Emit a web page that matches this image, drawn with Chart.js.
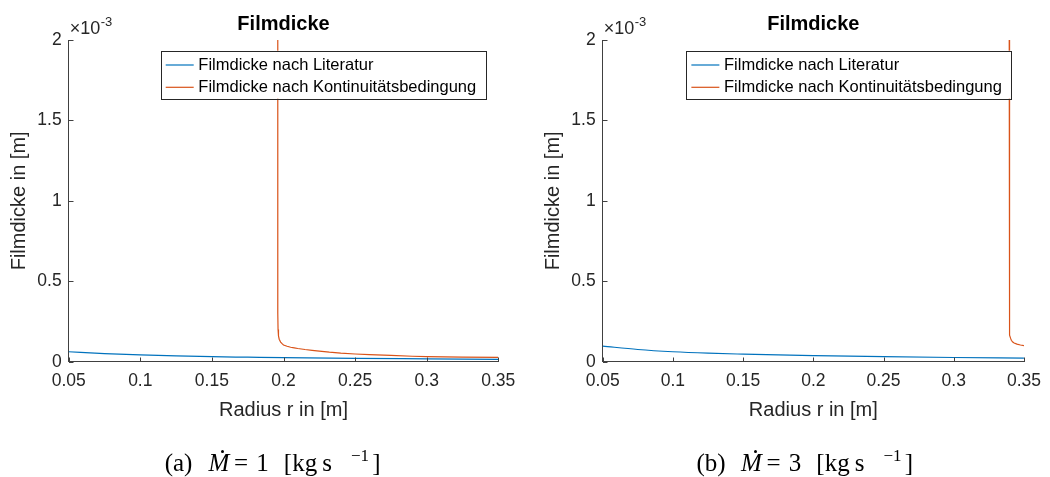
<!DOCTYPE html>
<html>
<head>
<meta charset="utf-8">
<title>Filmdicke</title>
<script src="https://cdn.jsdelivr.net/npm/chart.js@4.4.1/dist/chart.umd.min.js"></script>
<style>
  html, body { margin: 0; padding: 0; background: #ffffff; }
  #wrap { position: relative; width: 1050px; height: 477px; overflow: hidden; }
  .panel { position: absolute; top: 0; width: 525px; height: 477px; }
  .panel canvas { display: block; }
  .cap {
    position: absolute; top: 450px; height: 26px; width: 220px;
    font-family: "Liberation Serif", "DejaVu Serif", serif;
    font-size: 25px; line-height: 25px; color: #000;
  }
  .cap span { position: absolute; top: 0; white-space: nowrap; transform: translateX(-50%); }
  .cap .it { font-style: italic; }
  .cap .sup { font-size: 17px; top: -7px; }
  .cap .dot { position: absolute; top: -0.5px; width: 3px; height: 3px; border-radius: 50%; background: #000; }
</style>
</head>
<body>
<div id="wrap">
  <div class="panel" style="left:0px"><canvas id="chartA" width="525" height="477"></canvas></div>
  <div class="panel" style="left:525px"><canvas id="chartB" width="525" height="477"></canvas></div>

  <div class="cap" style="left:167px">
    <span style="left:11.5px">(a)</span>
    <span class="it" style="left:52px">M</span><div class="dot" style="left:54px"></div>
    <span style="left:74px">=</span>
    <span style="left:95.5px">1</span>
    <span style="left:133.5px">[kg</span>
    <span style="left:160px">s</span>
    <span class="sup" style="left:193px">−1</span>
    <span style="left:209.5px">]</span>
  </div>
  <div class="cap" style="left:699.5px">
    <span style="left:11.5px">(b)</span>
    <span class="it" style="left:52px">M</span><div class="dot" style="left:54px"></div>
    <span style="left:74px">=</span>
    <span style="left:95.5px">3</span>
    <span style="left:133.5px">[kg</span>
    <span style="left:160px">s</span>
    <span class="sup" style="left:193px">−1</span>
    <span style="left:209.5px">]</span>
  </div>
</div>

<script>
// Film thickness values are given in units of 1e-3 m (the axis carries the ×10^-3 factor).

// Tick labels shared by both panels
const radiusTicks = [0.05, 0.1, 0.15, 0.2, 0.25, 0.3, 0.35];
const radiusTickLabels = ['0.05', '0.1', '0.15', '0.2', '0.25', '0.3', '0.35'];
const thicknessTicks = [0, 0.5, 1, 1.5, 2];
const thicknessTickLabels = ['0', '0.5', '1', '1.5', '2'];

// Series names
const seriesNames = ['Filmdicke nach Literatur', 'Filmdicke nach Kontinuitätsbedingung'];

// Panel (a): mass flow 1 kg/s
const radiusLitA = [0.05, 0.075, 0.1, 0.125, 0.15, 0.175, 0.2, 0.25, 0.3, 0.35];
const thickLitA  = [0.062, 0.050, 0.042, 0.036, 0.031, 0.028, 0.025, 0.021, 0.018, 0.015];
const radiusKontA = [0.196, 0.19601, 0.1962, 0.1965, 0.197, 0.198, 0.199, 0.2, 0.2025, 0.205, 0.2075, 0.21, 0.215, 0.22, 0.225, 0.232, 0.24, 0.25, 0.26, 0.275, 0.29, 0.3, 0.325, 0.35];
const thickKontA  = [2.0, 0.3, 0.2, 0.16, 0.14, 0.122, 0.112, 0.104, 0.096, 0.09, 0.086, 0.082, 0.076, 0.071, 0.066, 0.059, 0.053, 0.048, 0.044, 0.039, 0.034, 0.032, 0.029, 0.027];

// Panel (b): mass flow 3 kg/s
const radiusLitB = [0.05, 0.075, 0.1, 0.125, 0.15, 0.175, 0.2, 0.25, 0.3, 0.35];
const thickLitB  = [0.097, 0.076, 0.062, 0.053, 0.047, 0.042, 0.038, 0.031, 0.026, 0.022];
const radiusKontB = [0.3395, 0.33951, 0.3397, 0.34, 0.3405, 0.341, 0.342, 0.343, 0.345, 0.3475, 0.35];
const thickKontB  = [2.0, 0.3, 0.2, 0.165, 0.145, 0.133, 0.122, 0.116, 0.109, 0.104, 0.1];

const BLUE = '#0072BD';
const ORANGE = '#D95319';
const AXIS = '#404040';
const SANS = '"Liberation Sans", Arial, Helvetica, sans-serif';

function pairs(xs, ys) { return xs.map((x, i) => ({ x: x, y: ys[i] })); }

// Inward tick marks, title, exponent, axis labels and legend box
const decorations = {
  id: 'decorations',
  afterDatasetsDraw(chart) {
    const ctx = chart.ctx;
    const a = chart.chartArea;
    const xs = chart.scales.x, ys = chart.scales.y;
    ctx.save();

    // tick marks pointing into the plot
    ctx.strokeStyle = AXIS;
    ctx.lineWidth = 1;
    ctx.beginPath();
    radiusTicks.forEach(v => {
      const px = Math.round(xs.getPixelForValue(v)) + 0.5;
      ctx.moveTo(px, Math.round(a.bottom));
      ctx.lineTo(px, Math.round(a.bottom) - 4.5);
    });
    thicknessTicks.forEach(v => {
      const py = Math.round(ys.getPixelForValue(v)) + 0.5;
      ctx.moveTo(Math.round(a.left), py);
      ctx.lineTo(Math.round(a.left) + 4.5, py);
    });
    ctx.stroke();

    const cx = (a.left + a.right) / 2;

    // title
    ctx.fillStyle = '#000';
    ctx.font = 'bold 20px ' + SANS;
    ctx.textAlign = 'center';
    ctx.textBaseline = 'alphabetic';
    ctx.fillText('Filmdicke', cx, 30);

    // exponent of the y axis
    ctx.fillStyle = '#262626';
    ctx.textAlign = 'left';
    ctx.font = '18px ' + SANS;
    const base = '\u00d710';
    ctx.fillText(base, a.left + 1, 33.5);
    const w = ctx.measureText(base).width;
    ctx.font = '13px ' + SANS;
    ctx.fillText('-3', a.left + 1 + w + 0.5, 26);

    // axis titles
    ctx.font = '20px ' + SANS;
    ctx.textAlign = 'center';
    ctx.textBaseline = 'middle';
    ctx.fillText('Radius r in [m]', cx, 410);
    ctx.save();
    ctx.translate(a.left - 49.7, (a.top + a.bottom) / 2);
    ctx.rotate(-Math.PI / 2);
    ctx.fillText('Filmdicke in [m]', 0, 0);
    ctx.restore();

    // legend (northeast)
    const lw = 324.6, lh = 48;
    const lx = a.right - 13 - lw, ly = 50.7;
    ctx.fillStyle = '#ffffff';
    ctx.fillRect(lx, ly, lw, lh);
    ctx.strokeStyle = '#262626';
    ctx.lineWidth = 1;
    ctx.strokeRect(Math.round(lx) + 0.5, Math.round(ly) + 0.5, Math.round(lw), Math.round(lh));
    const rows = [65, 87.3];
    const cols = [BLUE, ORANGE];
    ctx.font = '16.5px ' + SANS;
    ctx.textAlign = 'left';
    ctx.textBaseline = 'middle';
    rows.forEach((ry, i) => {
      ctx.strokeStyle = cols[i];
      ctx.lineWidth = 1.2;
      ctx.beginPath();
      ctx.moveTo(lx + 5, ry);
      ctx.lineTo(lx + 33, ry);
      ctx.stroke();
      ctx.fillStyle = '#000';
      ctx.fillText(seriesNames[i], lx + 37.6, ry + 0.5);
    });

    ctx.restore();
  }
};

function makeChart(id, litX, litY, kontX, kontY, axisLeft, axisRight) {
  const bottomGap = 477 - 361.7;
  return new Chart(document.getElementById(id), {
    type: 'line',
    data: {
      datasets: [
        {
          label: seriesNames[0],
          data: pairs(litX, litY),
          borderColor: BLUE,
          borderWidth: 1.2,
          pointRadius: 0,
          cubicInterpolationMode: 'monotone',
          fill: false
        },
        {
          label: seriesNames[1],
          data: pairs(kontX, kontY),
          borderColor: ORANGE,
          borderWidth: 1.2,
          pointRadius: 0,
          tension: 0,
          fill: false
        }
      ]
    },
    options: {
      responsive: false,
      animation: false,
      devicePixelRatio: 1,
      layout: { padding: { top: 40, left: 0, right: 525 - axisRight, bottom: bottomGap - 40 } },
      plugins: {
        legend: { display: false },
        title: { display: false },
        tooltip: { enabled: false }
      },
      scales: {
        x: {
          type: 'linear',
          min: 0.05,
          max: 0.35,
          afterBuildTicks: s => { s.ticks = radiusTicks.map(v => ({ value: v })); },
          afterFit: s => { s.height = 40; },
          grid: { display: false, drawTicks: false },
          border: { display: true, color: AXIS, width: 1 },
          ticks: {
            color: '#262626',
            font: { family: SANS, size: 17.5 },
            padding: 9,
            maxRotation: 0,
            autoSkip: false,
            callback: (v, i) => radiusTickLabels[i]
          }
        },
        y: {
          type: 'linear',
          min: 0,
          max: 2,
          afterBuildTicks: s => { s.ticks = thicknessTicks.map(v => ({ value: v })); },
          afterFit: s => { s.width = axisLeft; },
          grid: { display: false, drawTicks: false },
          border: { display: true, color: AXIS, width: 1 },
          ticks: {
            color: '#262626',
            font: { family: SANS, size: 17.5 },
            padding: 7,
            autoSkip: false,
            callback: (v, i) => thicknessTickLabels[i]
          }
        }
      }
    },
    plugins: [decorations]
  });
}

makeChart('chartA', radiusLitA, thickLitA, radiusKontA, thickKontA, 68.7, 498.3);
makeChart('chartB', radiusLitB, thickLitB, radiusKontB, thickKontB, 602.7 - 525, 1031.7 - 525);
</script>
</body>
</html>
